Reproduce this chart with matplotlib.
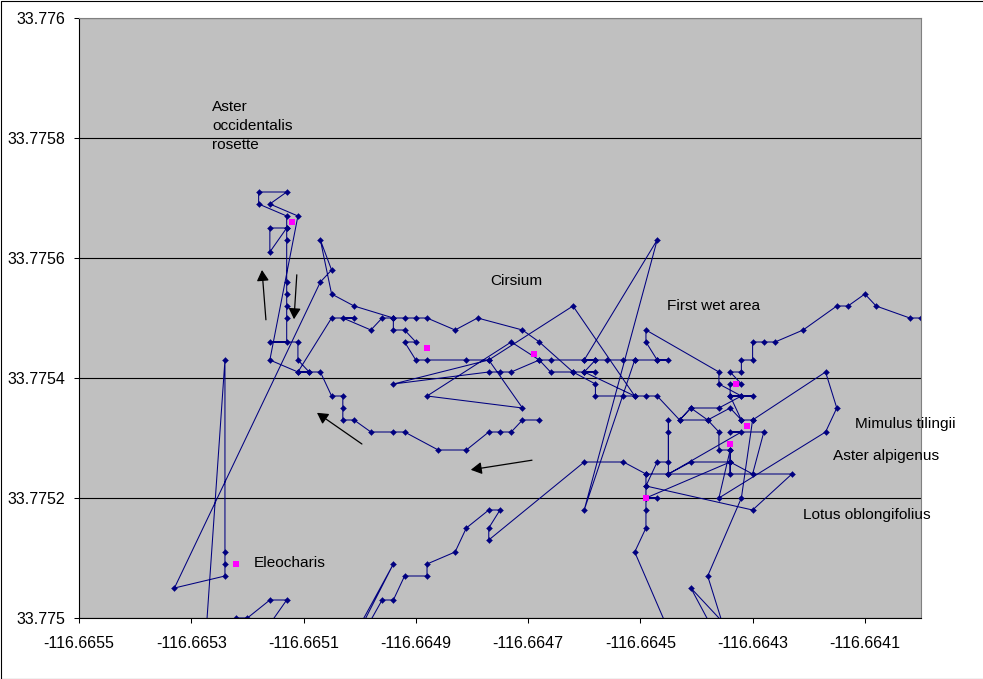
import matplotlib
matplotlib.use("Agg")
import matplotlib.pyplot as plt
from matplotlib.lines import Line2D

plt.rcParams['font.family'] = ['Liberation Sans', 'DejaVu Sans']

x_ticks = [-116.6655, -116.6653, -116.6651, -116.6649, -116.6647, -116.6645, -116.6643, -116.6641]
x_labels = ['-116.6655', '-116.6653', '-116.6651', '-116.6649', '-116.6647', '-116.6645', '-116.6643', '-116.6641']
y_ticks = [33.775, 33.7752, 33.7754, 33.7756, 33.7758, 33.776]
y_labels = ['33.775', '33.7752', '33.7754', '33.7756', '33.7758', '33.776']

# gps track, split in pieces that join up at shared points
stub_lon = [-116.66524, -116.66522, -116.6652, -116.66516, -116.66513, -116.66516]
stub_lat = [33.77499, 33.775, 33.775, 33.77503, 33.77503, 33.77499]

main_lon = [-116.66528, -116.66524, -116.66524, -116.66524, -116.66524, -116.66533, -116.66507, -116.66505,
            -116.66507, -116.66505, -116.66501, -116.66494, -116.66492, -116.6649, -116.66488, -116.66483,
            -116.66479, -116.66471, -116.66468, -116.66462, -116.66458, -116.66458, -116.66453, -116.66451,
            -116.66449, -116.66447, -116.66443, -116.66441, -116.66438, -116.66443, -116.66441, -116.66436,
            -116.66432, -116.6643, -116.66434, -116.66432, -116.66436, -116.66436, -116.66449, -116.66449,
            -116.66447, -116.66445, -116.66447, -116.66451]
main_lat = [33.77489, 33.77543, 33.77511, 33.77509, 33.77507, 33.77505, 33.77556, 33.77558,
            33.77563, 33.77554, 33.77552, 33.7755, 33.7755, 33.7755, 33.7755, 33.77548,
            33.7755, 33.77548, 33.77546, 33.77541, 33.77539, 33.77537, 33.77537, 33.77537,
            33.77537, 33.77537, 33.77533, 33.77535, 33.77533, 33.77533, 33.77535, 33.77535,
            33.77537, 33.77537, 33.77537, 33.77537, 33.77539, 33.77541, 33.77548, 33.77546,
            33.77543, 33.77543, 33.77543, 33.77543]

east_lon = [-116.664, -116.66402, -116.66408, -116.6641, -116.66413, -116.66415, -116.66421, -116.66426,
            -116.66428, -116.6643, -116.6643, -116.66432, -116.66432, -116.66434, -116.66432, -116.66434,
            -116.66434, -116.66432, -116.6643, -116.66417, -116.66415, -116.66417, -116.66436, -116.66434,
            -116.66436, -116.66436, -116.66438, -116.66434, -116.66432]
east_lat = [33.7755, 33.7755, 33.77552, 33.77554, 33.77552, 33.77552, 33.77548, 33.77546,
            33.77546, 33.77546, 33.77543, 33.77543, 33.77541, 33.77541, 33.77539, 33.77539,
            33.77537, 33.77533, 33.77533, 33.77541, 33.77535, 33.77531, 33.7752, 33.77528,
            33.77528, 33.77531, 33.77533, 33.77535, 33.77533]

center_lon = [-116.66494, -116.66494, -116.66492, -116.6649, -116.66492, -116.6649, -116.66488, -116.66481,
              -116.66477, -116.66471, -116.66488, -116.66473, -116.66468, -116.66466, -116.66462, -116.6646,
              -116.66458, -116.6646, -116.66458, -116.6646, -116.66447, -116.6646, -116.66451,
              -116.66453, -116.66456, -116.66458, -116.6646, -116.66466, -116.66468, -116.66473, -116.66475,
              -116.66477, -116.66494, -116.66477, -116.66462, -116.66451, -116.6646]
center_lat = [33.7755, 33.77548, 33.77548, 33.77546, 33.77546, 33.77543, 33.77543, 33.77543,
              33.77543, 33.77535, 33.77537, 33.77546, 33.77543, 33.77541, 33.77541, 33.77541,
              33.77541, 33.77541, 33.77543, 33.77543, 33.77563, 33.77518, 33.77543,
              33.77543, 33.77543, 33.77543, 33.77543, 33.77543, 33.77543, 33.77541, 33.77541,
              33.77541, 33.77539, 33.77543, 33.77552, 33.77537, 33.77541]

west_lon = [-116.66494, -116.66496, -116.66498, -116.66503, -116.66501, -116.66505, -116.66511, -116.66516,
            -116.66511, -116.66516, -116.66513, -116.66518, -116.66518, -116.66513, -116.66513, -116.66516,
            -116.66516, -116.66513, -116.66513, -116.66513, -116.66513, -116.66513, -116.66513, -116.66513,
            -116.66516, -116.66511, -116.66511, -116.66509, -116.66511, -116.66509, -116.66507, -116.66505,
            -116.66503, -116.66503, -116.66503, -116.66501, -116.66498, -116.66494, -116.66492, -116.66486,
            -116.66481, -116.66477, -116.66475, -116.66473, -116.66471, -116.66468]
west_lat = [33.7755, 33.7755, 33.77548, 33.7755, 33.7755, 33.7755, 33.77541, 33.77543,
            33.77567, 33.77569, 33.77571, 33.77571, 33.77569, 33.77567, 33.77565, 33.77565,
            33.77561, 33.77565, 33.77563, 33.77556, 33.77554, 33.77552, 33.7755, 33.77546,
            33.77546, 33.77546, 33.77543, 33.77541, 33.77541, 33.77541, 33.77541, 33.77537,
            33.77537, 33.77535, 33.77533, 33.77533, 33.77531, 33.77531, 33.77531, 33.77528,
            33.77528, 33.77531, 33.77531, 33.77531, 33.77533, 33.77533]

south_lon = [-116.66445, -116.66451, -116.66449, -116.66449, -116.66449, -116.66447, -116.66449, -116.66449,
             -116.6643, -116.66423, -116.66449, -116.66449, -116.66447, -116.66445, -116.66445, -116.66445,
             -116.66445, -116.66432, -116.66434, -116.66428, -116.6643, -116.66434, -116.66434, -116.66434,
             -116.66434, -116.66441, -116.66445]
south_lat = [33.77498, 33.77511, 33.77515, 33.77518, 33.7752, 33.7752, 33.7752, 33.77522,
             33.77518, 33.77524, 33.77524, 33.77522, 33.77526, 33.77526, 33.77531, 33.77533,
             33.77524, 33.77531, 33.77531, 33.77531, 33.77524, 33.77526, 33.77524, 33.77528,
             33.77526, 33.77526, 33.77524]

link_lon = [-116.66449, -116.66434]
link_lat = [33.7752, 33.77526]

sw_lon = [-116.66449, -116.66453, -116.6646, -116.66477, -116.66477, -116.66475, -116.66477, -116.66481,
          -116.66483, -116.66488, -116.66488, -116.66492, -116.66494, -116.66496, -116.66499, -116.665,
          -116.66494, -116.66501]
sw_lat = [33.77524, 33.77526, 33.77526, 33.77513, 33.77515, 33.77518, 33.77518, 33.77515,
          33.77511, 33.77509, 33.77507, 33.77507, 33.77503, 33.77503, 33.77498, 33.77498,
          33.77509, 33.77497]

drop_lon = [-116.6643, -116.66432, -116.66438, -116.66435, -116.66434, -116.66441, -116.66437]
drop_lat = [33.77533, 33.7752, 33.77507, 33.77498, 33.77498, 33.77505, 33.77498]

tracks = [(stub_lon, stub_lat), (main_lon, main_lat), (east_lon, east_lat), (center_lon, center_lat),
          (west_lon, west_lat), (south_lon, south_lat), (link_lon, link_lat), (sw_lon, sw_lat),
          (drop_lon, drop_lat)]

plant_lon = [-116.66512, -116.66522, -116.66488, -116.66469, -116.66433, -116.66431, -116.66434, -116.66449]
plant_lat = [33.77566, 33.77509, 33.77545, 33.77544, 33.77539, 33.77532, 33.77529, 33.7752]

arrow_tail_lon = [-116.665167, -116.665112, -116.664996, -116.664693]
arrow_tail_lat = [33.775497, 33.775572, 33.77529, 33.775263]
arrow_head_lon = [-116.665174, -116.665117, -116.665076, -116.664802]
arrow_head_lat = [33.77558, 33.775498, 33.775342, 33.775247]

plant_names = ['Aster\noccidentalis\nrosette', 'Cirsium', 'First wet area', 'Mimulus tilingii',
               'Aster alpigenus', 'Lotus oblongifolius', 'Eleocharis']
name_lon = [-116.665263, -116.664768, -116.664452, -116.664118, -116.664157, -116.66421, -116.665188]
name_lat = [33.77582, 33.775562, 33.77552, 33.775323, 33.77527, 33.775172, 33.775092]

fig = plt.figure(figsize=(9.83, 6.79), dpi=100)
ax = fig.add_axes([79 / 983, 1 - 618 / 679, 842 / 983, 600 / 679])
ax.set_facecolor('#C0C0C0')
ax.set_xlim(-116.6655, -116.664)
ax.set_ylim(33.775, 33.776)

ax.set_xticks(x_ticks, x_labels)
ax.set_yticks(y_ticks, y_labels)
ax.tick_params(length=3.6, width=0.75, color='black', labelsize=11.5)
ax.tick_params(axis='x', pad=9)
ax.tick_params(axis='y', pad=6.5)
ax.grid(axis='y', color='black', linewidth=0.8)
ax.grid(axis='x', visible=False)
ax.set_axisbelow(True)

for side in ['top', 'right']:
    ax.spines[side].set_color('#808080')
    ax.spines[side].set_linewidth(0.8)
for side in ['left', 'bottom']:
    ax.spines[side].set_color('black')
    ax.spines[side].set_linewidth(0.8)

for lon, lat in tracks:
    ax.plot(lon, lat, color='#000080', linewidth=0.75, marker='D', markersize=3.0,
            markerfacecolor='#000080', markeredgecolor='#000080', markeredgewidth=0.3)

ax.plot(plant_lon, plant_lat, linestyle='none', marker='s', markersize=5, color='#FF00FF',
        markeredgewidth=0, zorder=5)

for x0, y0, x1, y1 in zip(arrow_tail_lon, arrow_tail_lat, arrow_head_lon, arrow_head_lat):
    ax.annotate('', xy=(x1, y1), xytext=(x0, y0),
                arrowprops=dict(arrowstyle='-|>,head_length=0.5,head_width=0.28', color='black',
                                linewidth=0.9, mutation_scale=13, shrinkA=0, shrinkB=0), zorder=6)

for name, x, y in zip(plant_names, name_lon, name_lat):
    ax.text(x, y, name, fontsize=11.1, color='black', ha='left', va='center', linespacing=1.41,
            clip_on=False, zorder=7)

# chart frame, no right side in the original
frame_x = [1, 0.5 / 983, 0.5 / 983, 1]
frame_y = [1 - 0.5 / 679, 1 - 0.5 / 679, 1 - 678.5 / 679, 1 - 678.5 / 679]
fig.add_artist(Line2D(frame_x, frame_y, transform=fig.transFigure, color='black', linewidth=0.8))

fig.savefig('out.png', dpi=100, facecolor='white')
